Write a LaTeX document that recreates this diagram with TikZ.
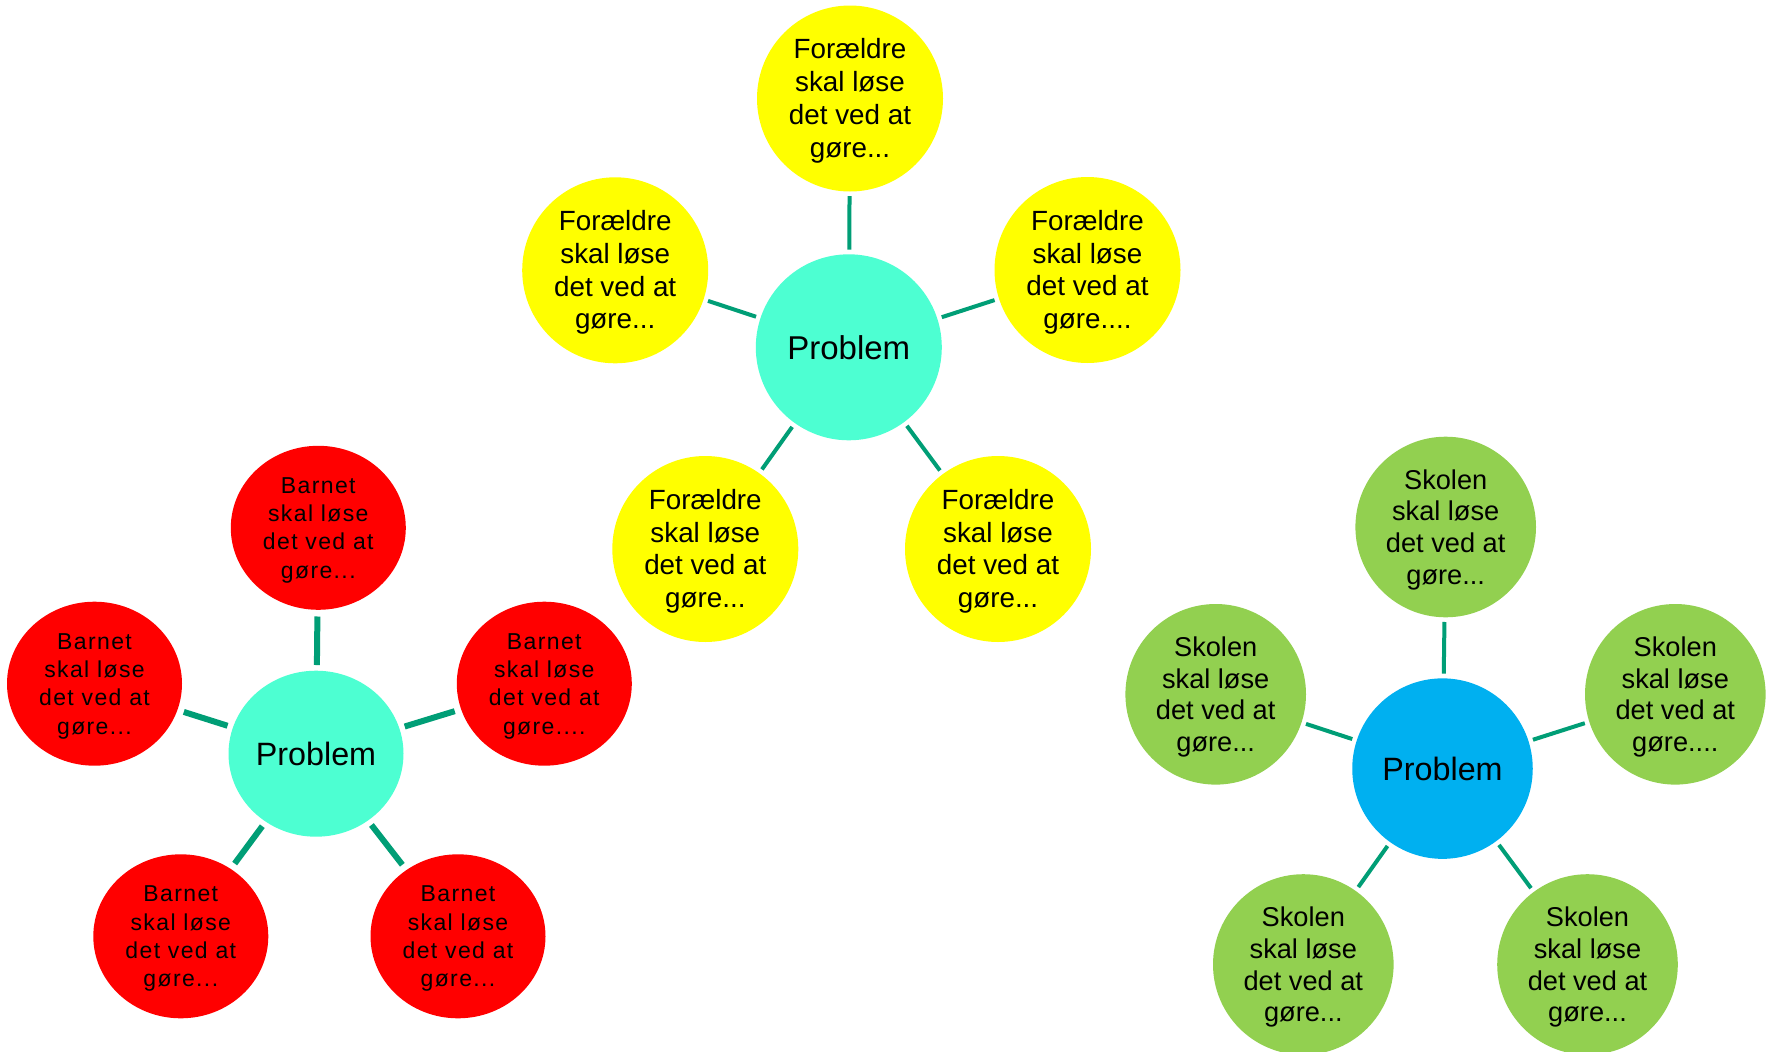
\documentclass[tikz,border=0pt]{standalone}
\usepackage{fontspec}
\setmainfont{Liberation Sans}
\usetikzlibrary{shapes.geometric}
\definecolor{yel}{HTML}{FFFF00}
\definecolor{mint}{HTML}{4DFFD2}
\definecolor{redc}{HTML}{FF0000}
\definecolor{grn}{HTML}{92D050}
\definecolor{blu}{HTML}{00B0F0}
\definecolor{linkc}{HTML}{009E76}
\newcommand\ystrut{\rule{0pt}{24.7pt}}
\newcommand\gstrut{\rule{0pt}{25.1pt}}
\newcommand\rstrut{\rule{0pt}{20.6pt}}
\tikzset{
  yelsat/.style={circle, fill=yel, minimum size=186pt, inner sep=0pt, align=center,
    font=\fontsize{27.8}{32.7}\selectfont},
  grnsat/.style={circle, fill=grn, minimum size=180.6pt, inner sep=0pt, align=center,
    font=\fontsize{27.2}{31.7}\selectfont},
  redsat/.style={ellipse, fill=redc, minimum width=175pt, minimum height=164pt, inner sep=0pt, align=center,
    font=\fontsize{23}{28.3}\selectfont\addfontfeature{LetterSpace=6}},
  probY/.style={circle, fill=mint, minimum size=186pt, inner sep=0pt,
    font=\fontsize{33}{38}\selectfont},
  probR/.style={ellipse, fill=mint, minimum width=175pt, minimum height=166pt, inner sep=0pt,
    font=\fontsize{32.3}{38}\selectfont},
  probB/.style={circle, fill=blu, minimum size=180.5pt, inner sep=0pt,
    font=\fontsize{32.3}{38}\selectfont},
  linkthin/.style={draw=linkc, line width=4pt, shorten <=4.5pt, shorten >=4.5pt},
  linkthick/.style={draw=linkc, line width=6pt, shorten <=5.5pt, shorten >=6.5pt}
}
\begin{document}
\begin{tikzpicture}[x=1pt,y=-1pt]
\path[use as bounding box, fill=white] (0,0) rectangle (1767,1052);

% Yellow cluster
\node[probY] (pY) at (848.8,347.3) {Problem};
\node[yelsat] (yT)  at (850,98.5)    {\ystrut Forældre\\skal løse\\det ved at\\gøre...};
\node[yelsat] (yUL) at (615.2,270.3) {\ystrut Forældre\\skal løse\\det ved at\\gøre...};
\node[yelsat] (yUR) at (1087.5,270)  {\ystrut Forældre\\skal løse\\det ved at\\gøre....};
\node[yelsat] (yLL) at (705.3,549)   {\ystrut Forældre\\skal løse\\det ved at\\gøre...};
\node[yelsat] (yLR) at (998,549)     {\ystrut Forældre\\skal løse\\det ved at\\gøre...};
\foreach \s in {yT,yUL,yUR,yLL,yLR} \draw[linkthin] (pY) -- (\s);

% Red cluster
\node[probR] (pR) at (316,753.7) {Problem};
\node[redsat] (rT)  at (318.3,527.8) {\rstrut Barnet\\skal løse\\det ved at\\gøre...};
\node[redsat] (rL)  at (94.5,683.7)  {\rstrut Barnet\\skal løse\\det ved at\\gøre...};
\node[redsat] (rR)  at (544.3,683.7) {\rstrut Barnet\\skal løse\\det ved at\\gøre....};
\node[redsat] (rLL) at (180.8,936.3) {\rstrut Barnet\\skal løse\\det ved at\\gøre...};
\node[redsat] (rLR) at (458,936.3)   {\rstrut Barnet\\skal løse\\det ved at\\gøre...};
\foreach \s in {rT,rL,rR,rLL,rLR} \draw[linkthick] (pR) -- (\s);

% Green cluster
\node[probB] (pB) at (1442.5,768.6) {Problem};
\node[grnsat] (gT)  at (1445.7,527)   {\gstrut Skolen\\skal løse\\det ved at\\gøre...};
\node[grnsat] (gL)  at (1215.7,694.3) {\gstrut Skolen\\skal løse\\det ved at\\gøre...};
\node[grnsat] (gR)  at (1675.3,694.3) {\gstrut Skolen\\skal løse\\det ved at\\gøre....};
\node[grnsat] (gLL) at (1303.3,964.5) {\gstrut Skolen\\skal løse\\det ved at\\gøre...};
\node[grnsat] (gLR) at (1587.5,964.5) {\gstrut Skolen\\skal løse\\det ved at\\gøre...};
\foreach \s in {gT,gL,gR,gLL,gLR} \draw[linkthin] (pB) -- (\s);
\end{tikzpicture}
\end{document}
